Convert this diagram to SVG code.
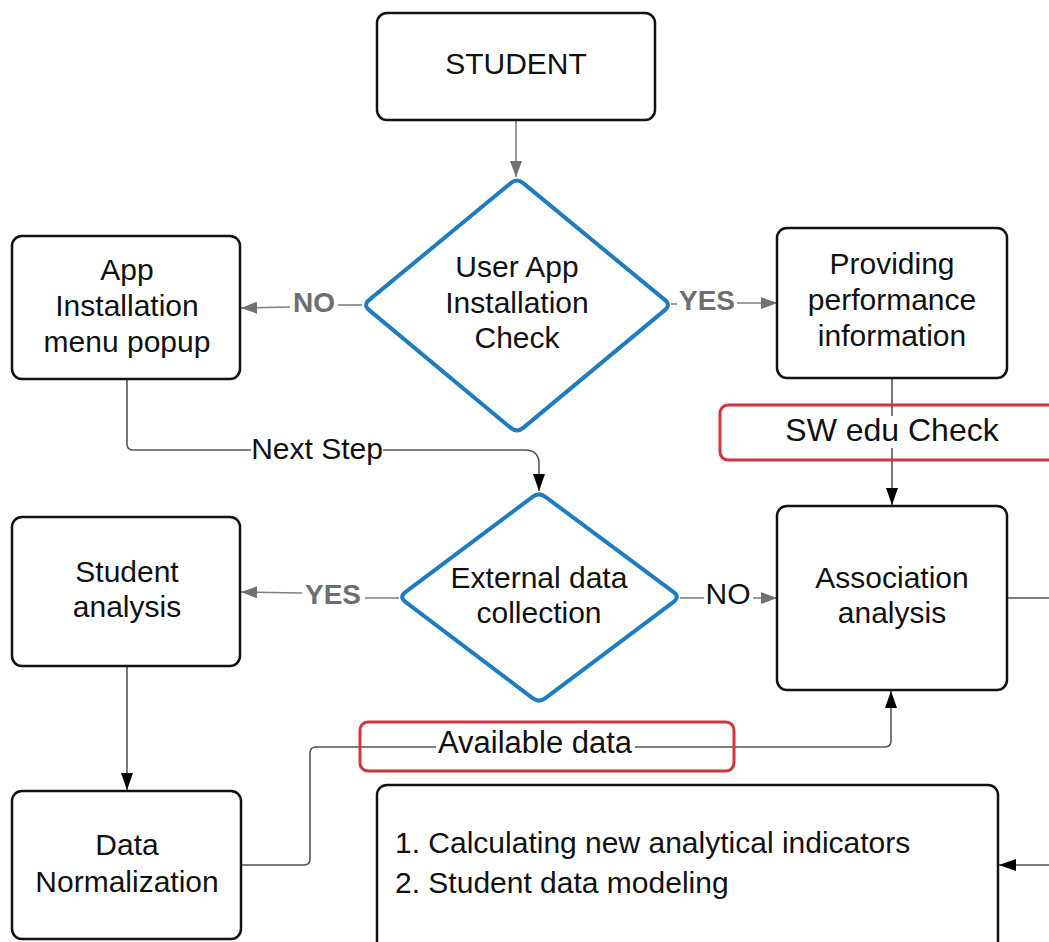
<svg xmlns="http://www.w3.org/2000/svg" width="1049" height="942" viewBox="0 0 1049 942">
<defs>
<style>
.box{fill:#fff;stroke:#111;stroke-width:2.5}
.dia{fill:#fff;stroke:#1f7cc0;stroke-width:4;stroke-linejoin:round}
.red{fill:none;stroke:#cf3441;stroke-width:3}
.t{font-family:"Liberation Sans",Arial,sans-serif;font-size:30px;fill:#111;text-anchor:middle}
.lbl{font-family:"Liberation Sans",Arial,sans-serif;font-size:28px;font-weight:bold;fill:#6e6e6e;text-anchor:middle}
.gl{fill:none;stroke:#808080;stroke-width:1.6}
.dl{fill:none;stroke:#555;stroke-width:1.6}
</style>
<marker id="ag" viewBox="0 0 16 12" refX="16" refY="6" markerWidth="16" markerHeight="12" markerUnits="userSpaceOnUse" orient="auto"><path d="M0,0 L16,6 L0,12 z" fill="#707070"/></marker>
<marker id="ab" viewBox="0 0 17 12" refX="17" refY="6" markerWidth="17" markerHeight="12" markerUnits="userSpaceOnUse" orient="auto"><path d="M0,0 L17,6 L0,12 z" fill="#000"/></marker>
</defs>
<rect width="1049" height="942" fill="#fff"/>

<g id="connectors">
<path class="gl" d="M516,120 V177" marker-end="url(#ag)"/>
<path class="gl" d="M362,305 H338"/>
<path class="gl" d="M290,307 L241,308" marker-end="url(#ag)"/>
<path class="gl" d="M671,304 H677"/>
<path class="gl" d="M737,303 H777" marker-end="url(#ag)"/>
<path class="dl" d="M892,378 V416"/>
<path class="dl" d="M892,448 V505" marker-end="url(#ab)"/>
<path class="dl" d="M127,380 V444 Q127,450 133,450 H251"/>
<path class="dl" d="M383,450 H525 Q539,450 539,464 V491" marker-end="url(#ab)"/>
<path class="gl" d="M399,598 H365"/>
<path class="gl" d="M302,593 L241,592" marker-end="url(#ag)"/>
<path class="gl" d="M680,598 H704"/>
<path class="gl" d="M753,598 H777" marker-end="url(#ag)"/>
<path class="dl" d="M1007,598 H1049"/>
<path class="dl" d="M127,666 V790" marker-end="url(#ab)"/>
<path class="dl" d="M241,865 H304 Q310,865 310,859 V753 Q310,747 316,747 H436"/>
<path class="dl" d="M635,747 H885 Q891,747 891,741 V691" marker-end="url(#ab)"/>
<path class="dl" d="M1049,865 H999" marker-end="url(#ab)"/>
<text class="lbl" x="314" y="312">NO</text>
<text class="lbl" x="707" y="310">YES</text>
<text class="lbl" x="333" y="604">YES</text>
<text class="t" x="728" y="604">NO</text>
<text class="t" x="317" y="459">Next Step</text>
<rect class="red" x="720" y="405" width="345" height="55" rx="8"/>
<text class="t" x="892" y="441" style="font-size:32px">SW edu Check</text>
<rect class="red" x="360" y="722" width="374" height="49" rx="8"/>
<text class="t" x="535" y="753" style="font-size:31px">Available data</text>
</g>

<g id="student">
<rect class="box" x="377" y="13" width="278" height="107" rx="10"/>
<text class="t" x="516" y="74">STUDENT</text>
</g>

<g id="install-check">
<path class="dia" d="M523.2,183.1 L664.8,299.9 Q671,305 664.8,310.1 L523.2,427.9 Q517,433 510.8,427.9 L369.2,310.1 Q363,305 369.2,299.9 L510.8,183.1 Q517,178 523.2,183.1 Z"/>
<text class="t" x="517" y="277">User App</text>
<text class="t" x="517" y="313">Installation</text>
<text class="t" x="517" y="348">Check</text>
</g>

<g id="install-popup">
<rect class="box" x="12" y="236" width="228" height="143" rx="10"/>
<text class="t" x="127" y="280">App</text>
<text class="t" x="127" y="316">Installation</text>
<text class="t" x="127" y="352">menu popup</text>
</g>

<g id="performance">
<rect class="box" x="777" y="228" width="230" height="150" rx="10"/>
<text class="t" x="892" y="274">Providing</text>
<text class="t" x="892" y="310">performance</text>
<text class="t" x="892" y="346">information</text>
</g>

<g id="external">
<path class="dia" d="M545.4,496.8 L673.6,592.2 Q680,597 673.6,601.8 L545.4,698.2 Q539,703 532.6,698.2 L405.4,601.8 Q399,597 405.4,592.2 L532.6,496.8 Q539,492 545.4,496.8 Z"/>
<text class="t" x="539" y="588">External data</text>
<text class="t" x="539" y="623">collection</text>
</g>

<g id="student-analysis">
<rect class="box" x="12" y="517" width="228" height="149" rx="10"/>
<text class="t" x="127" y="582">Student</text>
<text class="t" x="127" y="617">analysis</text>
</g>

<g id="association">
<rect class="box" x="777" y="506" width="230" height="184" rx="10"/>
<text class="t" x="892" y="588">Association</text>
<text class="t" x="892" y="623">analysis</text>
</g>

<g id="normalization">
<rect class="box" x="12" y="791" width="229" height="148" rx="10"/>
<text class="t" x="127" y="855">Data</text>
<text class="t" x="127" y="892">Normalization</text>
</g>

<g id="modeling">
<rect class="box" x="377" y="785" width="621" height="170" rx="10"/>
<text class="t" x="395" y="853" style="text-anchor:start">1. Calculating new analytical indicators</text>
<text class="t" x="395" y="893" style="text-anchor:start">2. Student data modeling</text>
</g>
</svg>
